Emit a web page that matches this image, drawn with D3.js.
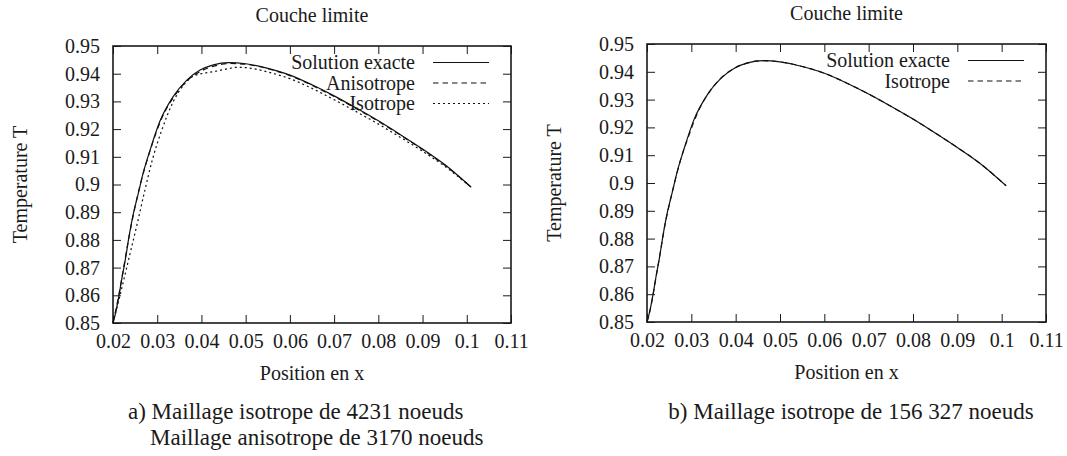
<!DOCTYPE html>
<html>
<head>
<meta charset="utf-8">
<script src="https://cdn.jsdelivr.net/npm/d3@7"></script>
<style>
  body { margin: 0; background: #fff; }
  svg text { font-family: "Liberation Serif", "Times New Roman", serif; fill: #1a1a1a; }
</style>
</head>
<body>
<div id="chart"></div>
<script>
// tick values for both panels
var xTicks = [0.02, 0.03, 0.04, 0.05, 0.06, 0.07, 0.08, 0.09, 0.10, 0.11]
var yTicks = [0.85, 0.86, 0.87, 0.88, 0.89, 0.90, 0.91, 0.92, 0.93, 0.94, 0.95]

// exact solution (both panels)
var exactX = [0.0200, 0.0205, 0.0212, 0.0220, 0.0228, 0.0236, 0.0246, 0.0256, 0.0268, 0.0284, 0.0306, 0.0336, 0.0367, 0.0397, 0.0427, 0.0462, 0.0500, 0.0548, 0.0600, 0.0650, 0.0700, 0.0750, 0.0800, 0.0850, 0.0900, 0.0950, 0.1010]
var exactT = [0.8500, 0.8530, 0.8585, 0.8660, 0.8730, 0.8810, 0.8895, 0.8960, 0.9040, 0.9125, 0.9228, 0.9317, 0.9377, 0.9413, 0.9432, 0.9440, 0.9436, 0.9420, 0.9395, 0.9360, 0.9320, 0.9276, 0.9230, 0.9180, 0.9128, 0.9072, 0.8990]

// panel a: anisotropic mesh, 3170 nodes
var anisoX = [0.0200, 0.0210, 0.0222, 0.0235, 0.0250, 0.0265, 0.0285, 0.0310, 0.0340, 0.0370, 0.0400, 0.0430, 0.0465, 0.0500, 0.0550, 0.0600, 0.0650, 0.0700, 0.0750, 0.0800, 0.0850, 0.0900, 0.0950, 0.1010]
var anisoT = [0.8500, 0.8575, 0.8680, 0.8800, 0.8920, 0.9020, 0.9128, 0.9238, 0.9322, 0.9378, 0.9410, 0.9428, 0.9437, 0.9434, 0.9418, 0.9393, 0.9358, 0.9318, 0.9274, 0.9228, 0.9178, 0.9126, 0.9070, 0.8990]

// panel a: isotropic mesh, 4231 nodes
var isoX = [0.0200, 0.0212, 0.0225, 0.0240, 0.0255, 0.0270, 0.0290, 0.0310, 0.0335, 0.0363, 0.0380, 0.0400, 0.0430, 0.0460, 0.0480, 0.0500, 0.0530, 0.0560, 0.0600, 0.0650, 0.0700, 0.0750, 0.0800, 0.0850, 0.0900, 0.0950, 0.1010]
var isoT = [0.8500, 0.8575, 0.8660, 0.8760, 0.8860, 0.8965, 0.9095, 0.9195, 0.9295, 0.9365, 0.9390, 0.9400, 0.9408, 0.9418, 0.9423, 0.9422, 0.9414, 0.9402, 0.9382, 0.9347, 0.9306, 0.9263, 0.9218, 0.9170, 0.9120, 0.9066, 0.8990]

// panel b: isotropic mesh, 156 327 nodes
var fineX = [0.0200, 0.0206, 0.0214, 0.0222, 0.0230, 0.0240, 0.0250, 0.0262, 0.0276, 0.0292, 0.0312, 0.0336, 0.0365, 0.0395, 0.0428, 0.0462, 0.0500, 0.0550, 0.0600, 0.0650, 0.0700, 0.0750, 0.0800, 0.0850, 0.0900, 0.0950, 0.1010]
var fineT = [0.8500, 0.8536, 0.8600, 0.8677, 0.8750, 0.8845, 0.8920, 0.9000, 0.9085, 0.9160, 0.9245, 0.9317, 0.9374, 0.9411, 0.9432, 0.9440, 0.9436, 0.9419, 0.9395, 0.9360, 0.9320, 0.9276, 0.9230, 0.9180, 0.9128, 0.9072, 0.8990]

var zip = (xs, ys) => xs.map((x, i) => ({ x: x, t: ys[i] }))

var svg = d3.select('#chart')
  .append('svg')
  .attr('width', 1067)
  .attr('height', 456)

var fmt = d => String(+d.toFixed(2))

var panels = [
  {
    left: 113, top: 46, width: 398, height: 277,
    series: [
      { name: 'Solution exacte', data: zip(exactX, exactT), dash: null },
      { name: 'Anisotrope', data: zip(anisoX, anisoT), dash: '5.5 4' },
      { name: 'Isotrope', data: zip(isoX, isoT), dash: '2 3' }
    ],
    caption: [
      { text: 'a) Maillage isotrope de 4231 noeuds', x: 128, y: 419, anchor: 'start' },
      { text: 'Maillage anisotrope de 3170 noeuds', x: 150, y: 445, anchor: 'start' }
    ]
  },
  {
    left: 647, top: 44, width: 399, height: 278,
    series: [
      { name: 'Solution exacte', data: zip(exactX, exactT), dash: null },
      { name: 'Isotrope', data: zip(fineX, fineT), dash: '5.5 4' }
    ],
    caption: [
      { text: 'b) Maillage isotrope de 156 327 noeuds', x: 851, y: 419, anchor: 'middle' }
    ]
  }
]

panels.forEach(function(p) {
  var g = svg.append('g')
    .attr('transform', `translate(${p.left},${p.top})`)

  var x = d3.scaleLinear().domain([0.02, 0.11]).range([0, p.width])
  var y = d3.scaleLinear().domain([0.85, 0.95]).range([p.height, 0])

  // inward ticks on all four sides, like gnuplot
  var axes = [
    { axis: d3.axisBottom(x).tickValues(xTicks).tickFormat(fmt).tickPadding(11), shift: [0, p.height] },
    { axis: d3.axisTop(x).tickValues(xTicks).tickFormat(''), shift: [0, 0] },
    { axis: d3.axisLeft(y).tickValues(yTicks).tickFormat(fmt).tickPadding(13), shift: [0, 0] },
    { axis: d3.axisRight(y).tickValues(yTicks).tickFormat(''), shift: [p.width, 0] }
  ]
  axes.forEach(function(a) {
    var ag = g.append('g')
      .attr('transform', `translate(${a.shift[0]},${a.shift[1]})`)
      .call(a.axis.tickSizeInner(-8).tickSizeOuter(0))
    ag.select('.domain').remove()
    ag.selectAll('line').attr('stroke', '#1a1a1a').attr('stroke-width', 1)
    ag.selectAll('text')
      .style('font-size', '20px')
      .attr('fill', '#1a1a1a')
  })

  // frame
  g.append('rect')
    .attr('width', p.width)
    .attr('height', p.height)
    .attr('fill', 'none')
    .attr('stroke', '#1a1a1a')
    .attr('stroke-width', 1.6)

  var line = d3.line()
    .x(d => x(d.x))
    .y(d => y(d.t))
    .curve(d3.curveMonotoneX)

  p.series.forEach(function(s, i) {
    g.append('path')
      .attr('d', line(s.data))
      .attr('fill', 'none')
      .attr('stroke', '#111')
      .attr('stroke-width', 1.2)
      .attr('stroke-dasharray', s.dash)

    // legend, top right inside the frame
    var ly = 16.5 + i * 20.5
    g.append('text')
      .text(s.name)
      .attr('x', p.width - 96)
      .attr('y', ly)
      .attr('dy', '0.33em')
      .attr('text-anchor', 'end')
      .style('font-size', '20px')
    g.append('line')
      .attr('x1', p.width - 78)
      .attr('x2', p.width - 22)
      .attr('y1', ly)
      .attr('y2', ly)
      .attr('stroke', '#111')
      .attr('stroke-width', 1.2)
      .attr('stroke-dasharray', s.dash)
  })

  // titles and axis labels
  g.append('text')
    .text('Couche limite')
    .attr('x', p.width / 2)
    .attr('y', -24)
    .attr('text-anchor', 'middle')
    .style('font-size', '20px')

  g.append('text')
    .text('Position en x')
    .attr('x', p.width / 2)
    .attr('y', p.height + 57)
    .attr('text-anchor', 'middle')
    .style('font-size', '20px')

  g.append('text')
    .text('Temperature T')
    .attr('transform', `translate(-86,${p.height / 2}) rotate(-90)`)
    .attr('text-anchor', 'middle')
    .style('font-size', '20px')

  p.caption.forEach(function(c) {
    svg.append('text')
      .text(c.text)
      .attr('x', c.x)
      .attr('y', c.y)
      .attr('text-anchor', c.anchor)
      .style('font-size', '23px')
  })
})
</script>
</body>
</html>
